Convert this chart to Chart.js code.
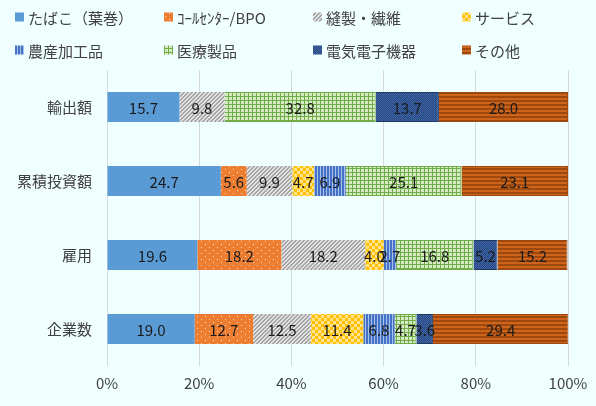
<!DOCTYPE html>
<html><head><meta charset="utf-8">
<script src="https://cdn.jsdelivr.net/npm/chart.js@4"></script>
<style>html,body{margin:0;padding:0;background:#F0FFFF;}#wrap{width:596px;height:406px;position:relative;}</style>
</head><body><div id="wrap"><canvas id="c" width="596" height="406"></canvas></div>
<script>
const categories = ['輸出額', '累積投資額', '雇用', '企業数'];
const seriesNames = ['たばこ（葉巻）', 'ｺｰﾙｾﾝﾀｰ/BPO', '縫製・繊維', 'サービス', '農産加工品', '医療製品', '電気電子機器', 'その他'];
const tobacco     = [15.7, 24.7, 19.6, 19.0];
const callCenter  = [0,    5.6,  18.2, 12.7];
const garment     = [9.8,  9.9,  18.2, 12.5];
const service     = [0,    4.7,  4.0,  11.4];
const agro        = [0,    6.9,  2.7,  6.8];
const medical     = [32.8, 25.1, 16.8, 4.7];
const electronics = [13.7, 0,    5.2,  3.6];
const other       = [28.0, 23.1, 15.2, 29.4];
const xTicks = ['0%', '20%', '40%', '60%', '80%', '100%'];

function tile(w, h, draw) {
  const c = document.createElement('canvas'); c.width = w; c.height = h;
  const g = c.getContext('2d'); draw(g);
  return document.getElementById('c').getContext('2d').createPattern(c, 'repeat');
}
const patterns = [
  '#5B9BD5',
  tile(8, 6, g => { g.fillStyle = '#ED7D31'; g.fillRect(0,0,8,6); g.fillStyle = 'rgba(255,230,200,0.9)'; g.fillRect(1,1,1,1); g.fillRect(5,4,1,1); }),
  tile(4, 4, g => { g.fillStyle = '#E2E2E2'; g.fillRect(0,0,4,4); g.fillStyle = '#A5A5A5';
    for (let i = 0; i < 4; i++) { g.fillRect(i, 3 - i, 1, 1); g.fillRect((i + 1) % 4, 3 - i, 1, 1); } }),
  tile(6, 6, g => { g.fillStyle = '#FFC000'; g.fillRect(0,0,6,6); g.fillStyle = '#FFE38A'; g.fillRect(0,0,3,3); g.fillRect(3,3,3,3); }),
  tile(3, 1, g => { g.fillStyle = '#4472C4'; g.fillRect(0,0,3,1); g.fillStyle = '#A9C0EA'; g.fillRect(2,0,1,1); }),
  tile(4, 4, g => { g.fillStyle = '#D6EAC6'; g.fillRect(0,0,4,4); g.fillStyle = '#70AD47'; g.fillRect(0,0,4,1); g.fillRect(0,0,1,4); }),
  tile(2, 2, g => { g.fillStyle = '#264478'; g.fillRect(0,0,2,2); g.fillStyle = '#3F68AE'; g.fillRect(0,0,1,1); g.fillRect(1,1,1,1); }),
  tile(1, 4, g => { g.fillStyle = '#9E480E'; g.fillRect(0,0,1,4); g.fillStyle = '#CC641C'; g.fillRect(0,2,1,2); })
];
const borders = [null, null, null, null, null, '#70AD47', '#1F3864', '#9E480E'];
const allData = [tobacco, callCenter, garment, service, agro, medical, electronics, other];

const FONT = '"Noto Sans CJK JP", "Noto Sans", sans-serif';

const labelPlugin = {
  id: 'barLabels',
  afterDatasetsDraw(chart) {
    const ctx = chart.ctx; ctx.save();
    ctx.font = '15px ' + FONT; ctx.fillStyle = '#1a1a1a'; ctx.textAlign = 'center'; ctx.textBaseline = 'middle';
    chart.data.datasets.forEach((ds, i) => {
      chart.getDatasetMeta(i).data.forEach((el, j) => {
        const v = ds.data[j]; if (!v) return;
        ctx.fillText(v.toFixed(1), (el.x + el.base) / 2, el.y + 1);
      });
    });
    ctx.restore();
  }
};
const legendPlugin = {
  id: 'customLegend',
  afterDraw(chart) {
    const ctx = chart.ctx; ctx.save();
    ctx.font = '15px ' + FONT; ctx.textBaseline = 'middle'; ctx.textAlign = 'left';
    const cols = [15, 164, 313, 462], rows = [17, 50];
    chart.data.datasets.forEach((ds, i) => {
      const x = cols[i % 4], y = rows[Math.floor(i / 4)];
      ctx.fillStyle = ds.backgroundColor; ctx.fillRect(x, y - 4.5, 9, 9);
      ctx.fillStyle = '#404040'; ctx.fillText(ds.label, x + 13, y + 1);
    });
    ctx.restore();
  }
};

new Chart(document.getElementById('c'), {
  type: 'bar',
  data: {
    labels: categories,
    datasets: seriesNames.map((n, i) => ({
      label: n, data: allData[i], backgroundColor: patterns[i],
      borderColor: borders[i] || 'rgba(0,0,0,0)', borderWidth: borders[i] ? 1 : 0,
      categoryPercentage: 1, barPercentage: 0.405
    }))
  },
  options: {
    indexAxis: 'y', responsive: false, animation: false, devicePixelRatio: 1,
    layout: { padding: { top: 70, right: 28, left: 0, bottom: 0 } },
    plugins: { legend: { display: false }, tooltip: { enabled: false } },
    scales: {
      x: {
        stacked: true, min: 0, max: 100,
        afterFit: s => { s.height = 40; },
        afterBuildTicks: s => { s.ticks = xTicks.map((t, i) => ({ value: i * 20 })); },
        ticks: { stepSize: 20, padding: 8, color: '#404040', font: { family: FONT, size: 15 }, callback: (v, i) => xTicks[i] },
        grid: { color: '#D9D9D9', drawTicks: false },
        border: { display: false }
      },
      y: {
        stacked: true,
        afterFit: s => { s.width = 107; },
        ticks: { padding: 15, color: '#404040', font: { family: FONT, size: 15 } },
        grid: { display: false, drawTicks: false },
        border: { display: false }
      }
    }
  },
  plugins: [labelPlugin, legendPlugin]
});
</script></body></html>
